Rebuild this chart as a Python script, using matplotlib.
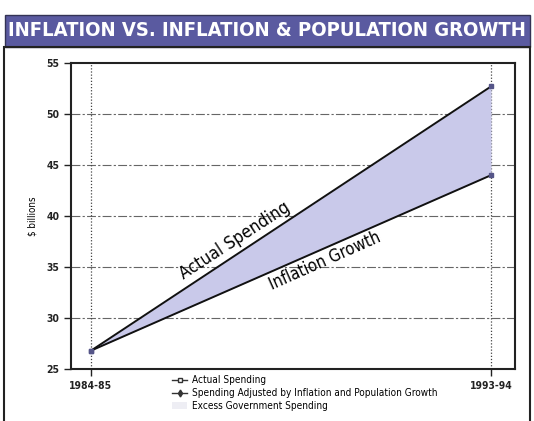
import matplotlib.pyplot as plt
from matplotlib.patches import Rectangle
from matplotlib.lines import Line2D
from matplotlib.patches import Patch

# data
years = ['1984-85', '1993-94']
actual_spending = [26.8, 52.7]
inflation_growth = [26.8, 44.0]

banner = '#5a5aa0'
fill_col = '#c9c9ea'

fig = plt.figure(figsize=(5.34, 4.21), dpi=100)

# title banner + frame around the chart
fig.patches.append(Rectangle((5 / 534, 1 - 47 / 421), 525 / 534, 32 / 421,
                             transform=fig.transFigure, facecolor=banner,
                             edgecolor='#333355', lw=1))
fig.patches.append(Rectangle((4 / 534, -0.01), 526 / 534, 1 - 47 / 421 + 0.01,
                             transform=fig.transFigure, facecolor='none',
                             edgecolor='#222222', lw=1.5))
fig.text(0.5, 1 - 31 / 421, 'INFLATION VS. INFLATION & POPULATION GROWTH',
         ha='center', va='center', color='white', fontsize=14.5, fontweight='bold',
         fontstretch='condensed')

ax = fig.add_axes([71 / 534, 52 / 421, 444 / 534, 306 / 421])
x = [0, 1]
ax.fill_between(x, inflation_growth, actual_spending, color=fill_col, lw=0)
ax.plot(x, actual_spending, color='#111111', lw=1.4, marker='s', ms=3.5,
        mfc='#555588', mec='#555588')
ax.plot(x, inflation_growth, color='#111111', lw=1.4, marker='s', ms=3.5,
        mfc='#555588', mec='#555588')

ax.set_xlim(-0.05, 1.06)
ax.set_ylim(25, 55)
ax.set_yticks(range(25, 56, 5))
ax.set_xticks(x)
ax.set_xticklabels(years)
for yv in range(30, 55, 5):
    ax.axhline(yv, color='#666666', lw=0.8, ls=(0, (8, 2, 2, 2)), zorder=0)
for xv in x:
    ax.axvline(xv, color='#444444', lw=0.9, ls=(0, (1, 1.5)), zorder=0)
for s in ax.spines.values():
    s.set_linewidth(1.5)
    s.set_color('#222222')
ax.tick_params(labelsize=7.5, width=1, length=5, colors='#222222')
for lab in ax.get_xticklabels() + ax.get_yticklabels():
    lab.set_fontweight('bold')
    lab.set_fontstretch('condensed')
ax.set_ylabel('$ billions', fontsize=7, labelpad=6, fontstretch='condensed')

ax.text(0.36, 37.6, 'Actual Spending', rotation=33, ha='center', va='center',
        fontsize=12.5, fontstretch='condensed', rotation_mode='anchor')
ax.text(0.585, 35.6, 'Inflation Growth', rotation=24, ha='center', va='center',
        fontsize=12, fontstretch='condensed', rotation_mode='anchor')

handles = [Line2D([], [], color='#333333', lw=1, marker='s', ms=3,
                  mfc='white', mec='#333333'),
           Line2D([], [], color='#333333', lw=1, marker='d', ms=3.5),
           Patch(facecolor='#eeeef4', edgecolor='none')]
ax.legend(handles, ['Actual Spending',
                    'Spending Adjusted by Inflation and Population Growth',
                    'Excess Government Spending'],
          loc='upper left', bbox_to_anchor=(0.215, 0.0), frameon=False,
          handlelength=1.5, handletextpad=0.5, labelspacing=0.3,
          borderaxespad=0.2, prop={'size': 7.2, 'stretch': 'condensed'})

fig.savefig('out.png', dpi=100)
